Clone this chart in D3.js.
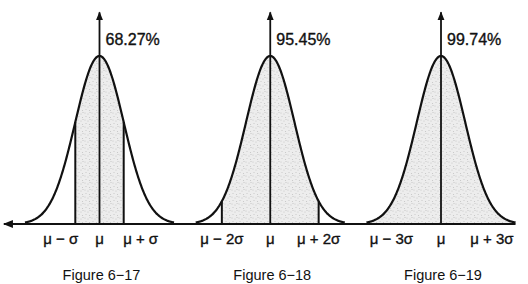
<!DOCTYPE html>
<html>
<head>
<meta charset="utf-8">
<script src="https://cdn.jsdelivr.net/npm/d3@7"></script>
<style>
  html, body { margin: 0; padding: 0; background: #fff; }
  svg { display: block; font-family: "Liberation Sans", Arial, sans-serif; }
</style>
</head>
<body>
<div id="chart"></div>
<script>
// Three normal curves, areas within 1, 2 and 3 sigma shaded
const figures = ["Figure 6−17", "Figure 6−18", "Figure 6−19"];
const percents = ["68.27%", "95.45%", "99.74%"];
const shadeK = [1, 2, 3];
const tickLabels = [
    ["μ − σ", "μ", "μ + σ"],
    ["μ − 2σ", "μ", "μ + 2σ"],
    ["μ − 3σ", "μ", "μ + 3σ"]
];
// where each label sits, in sigma units from the mean
const tickLabelAt = [
    [-1.6, 0, 1.7],
    [-2, 0, 2],
    [-2.05, 0, 2.1]
];
const tailZ = 3.08;     // curves stop a little past 3 sigma
const arrowTopZ = 1.26; // height of the vertical arrows, relative to the peak

const width = 528, height = 284;
const sigmaPx = 24.2;

const svg = d3.select("#chart").append("svg")
    .attr("width", width)
    .attr("height", height);

const defs = svg.append("defs");

// stippled grey fill like the printed figure
const pat = defs.append("pattern")
    .attr("id", "stipple")
    .attr("patternUnits", "userSpaceOnUse")
    .attr("width", 7).attr("height", 7);
pat.append("rect").attr("width", 7).attr("height", 7).attr("fill", "#ededed");
[[1, 1], [4, 2], [2, 4.5], [5.5, 5.5], [6, 0.5]].forEach(([cx, cy]) => {
    pat.append("circle").attr("cx", cx).attr("cy", cy).attr("r", 0.55).attr("fill", "#c4c4c4");
});

defs.append("marker")
    .attr("id", "head")
    .attr("viewBox", "0 0 10 10")
    .attr("refX", 9).attr("refY", 5)
    .attr("markerWidth", 5).attr("markerHeight", 6)
    .attr("markerUnits", "strokeWidth")
    .attr("orient", "auto")
  .append("path")
    .attr("d", "M0,1 L10,5 L0,9 Z")
    .attr("fill", "#111");

// panel centres
const px = d3.scalePoint()
    .domain(figures)
    .range([99.5, 441]);

// density scaled so the peak is 1
const y = d3.scaleLinear()
    .domain([0, 1])
    .range([224, 56]);

const dens = z => Math.exp(-z * z / 2);

const xFor = f => d3.scaleLinear()
    .domain([-1, 1])
    .range([px(f) - sigmaPx, px(f) + sigmaPx]);

const line = d3.line().x(d => d[0]).y(d => d[1]);

// scanned print looks a bit heavier than plain regular text
const ink = sel => sel.attr("fill", "#111").attr("stroke", "#111").attr("stroke-width", 0.35);

figures.forEach((f, i) => {
    const x = xFor(f);
    const g = svg.append("g");
    const k = shadeK[i];

    // shaded region
    const shadePts = d3.range(-k, k + 0.001, 0.02).map(z => [x(z), y(dens(z))]);
    g.append("path")
        .attr("d", d3.area().x(d => d[0]).y0(y(0)).y1(d => d[1])(shadePts))
        .attr("fill", "url(#stipple)");

    // boundary lines of the shaded area
    [-k, k].forEach(z => {
        g.append("line")
            .attr("x1", x(z)).attr("x2", x(z))
            .attr("y1", y(0)).attr("y2", y(dens(z)))
            .attr("stroke", "#111")
            .attr("stroke-width", 2);
    });

    // bell curve
    const curvePts = d3.range(-tailZ, tailZ + 0.001, 0.02).map(z => [x(z), y(dens(z))]);
    g.append("path")
        .attr("d", line(curvePts))
        .attr("fill", "none")
        .attr("stroke", "#111")
        .attr("stroke-width", 2.2);

    // vertical arrow at the mean
    g.append("line")
        .attr("x1", x(0)).attr("x2", x(0))
        .attr("y1", y(0)).attr("y2", y(arrowTopZ))
        .attr("stroke", "#111")
        .attr("stroke-width", 1.8)
        .attr("marker-end", "url(#head)");

    g.append("text")
        .attr("x", x(0) + 6)
        .attr("y", 45)
        .attr("font-size", 16)
        .call(ink)
        .text(percents[i]);

    // labels under the axis
    tickLabels[i].forEach((t, j) => {
        g.append("text")
            .attr("x", x(tickLabelAt[i][j]))
            .attr("y", 244)
            .attr("text-anchor", "middle")
            .attr("font-size", 15)
            .call(ink)
            .text(t);
    });

    g.append("text")
        .attr("x", x(0) + 2)
        .attr("y", 280)
        .attr("text-anchor", "middle")
        .attr("font-size", 14.5)
        .attr("fill", "#111")
        .text(f);
});

// horizontal axis, arrow pointing left
const first = xFor(figures[0]), last = xFor(figures[figures.length - 1]);
svg.append("line")
    .attr("x1", last(tailZ)).attr("x2", first(-3.95))
    .attr("y1", y(0)).attr("y2", y(0))
    .attr("stroke", "#111")
    .attr("stroke-width", 2)
    .attr("marker-end", "url(#head)");
</script>
</body>
</html>
